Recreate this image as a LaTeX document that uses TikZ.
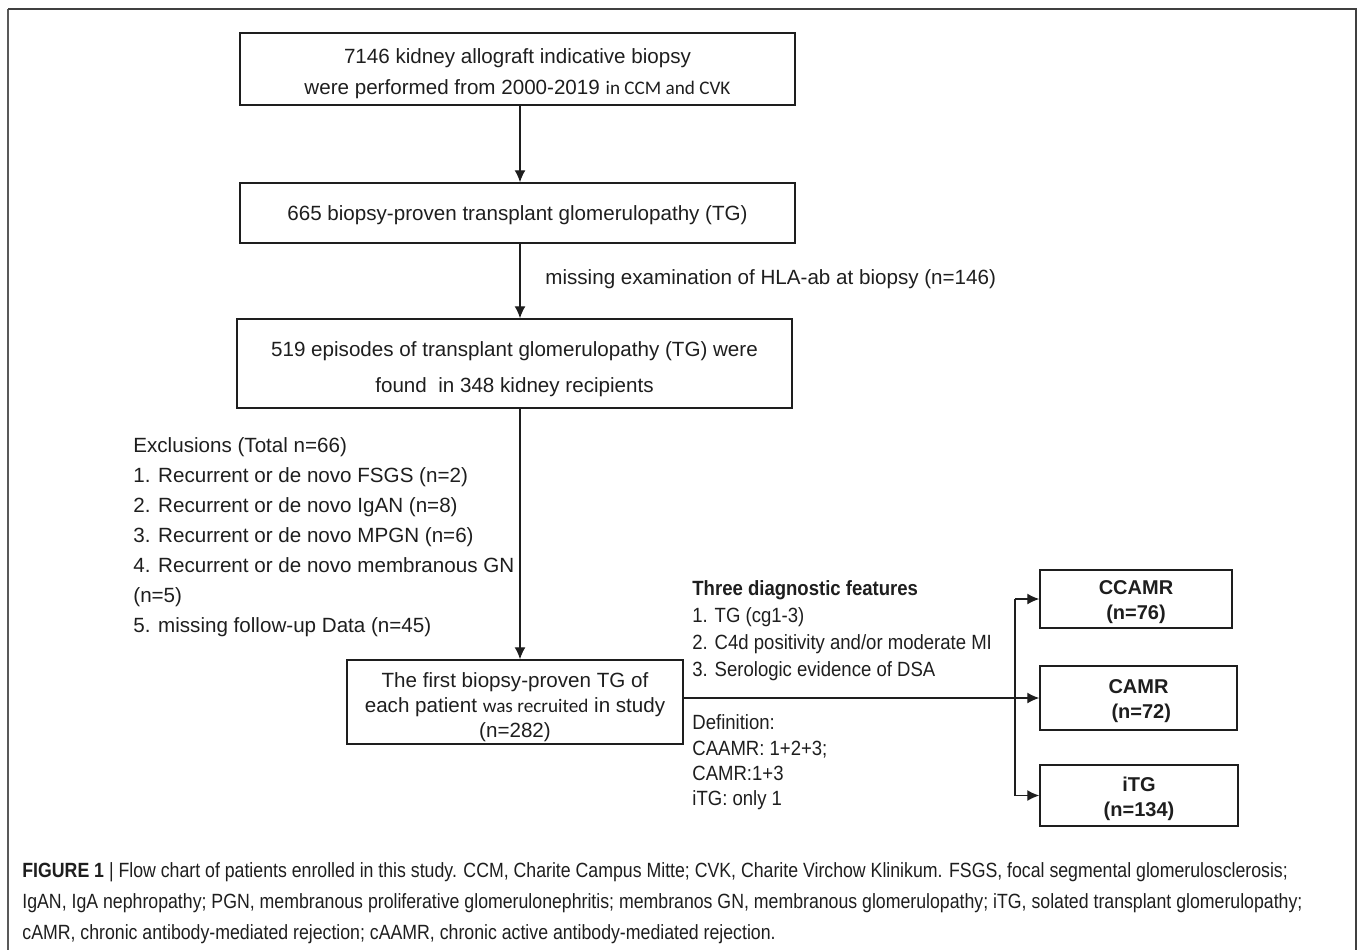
\documentclass[tikz,border=0pt]{standalone}
\usepackage{fontspec}
\setmainfont{Liberation Sans}
\newfontfamily\calfont{Carlito}
\newfontfamily\narrowfont[FakeStretch=0.9]{Liberation Sans}
\newfontfamily\capfont[FakeStretch=0.86]{Liberation Sans}
\usetikzlibrary{arrows.meta}
\definecolor{ink}{HTML}{1E1E1E}
\newcommand\lift[1]{\rule{0pt}{#1}}
\begin{document}
\begin{tikzpicture}[x=0.5pt,y=-0.5pt,
  every node/.style={text=ink},
  box/.style={draw=ink,line width=0.75pt,inner sep=0pt,align=center,font=\fontsize{10.3}{15.5}\selectfont},
  resbox/.style={box,font=\bfseries\fontsize{10}{12.5}\selectfont},
  arr/.style={draw=ink,line width=0.7pt,-{Latex[length=6pt,width=5.5pt]}},
  conn/.style={draw=ink,line width=0.7pt},
  plain/.style={inner sep=0pt,align=left}]
\useasboundingbox (0,0) rectangle (1358,949);
% frame
\draw[line width=1pt,draw=black!65] (8,960) -- (8,8.5);
\draw[line width=1pt,draw=black!75] (8,8.5) -- (1356,8.5) -- (1356,960);

\node[box,minimum width=277.5pt,minimum height=36pt] (b1) at (517.5,69)
  {\lift{12pt}7146 kidney allograft indicative biopsy\\were performed from 2000-2019 {\calfont\fontsize{9.6}{15.5}\selectfont in CCM and CVK}};
\node[box,minimum width=277.5pt,minimum height=30pt] (b2) at (517.5,213)
  {\lift{9.5pt}665 biopsy-proven transplant glomerulopathy (TG)};
\node[box,minimum width=277.5pt,minimum height=44.5pt,font=\fontsize{10.3}{18}\selectfont] (b3) at (514.5,363.5)
  {\lift{13.6pt}519 episodes of transplant glomerulopathy (TG) were\\found\ \ in 348 kidney recipients};
\node[box,minimum width=168pt,minimum height=42pt,font=\fontsize{10.3}{12.5}\selectfont] (b4) at (515,702)
  {\lift{12.5pt}The first biopsy-proven TG of\\each patient {\calfont\fontsize{9.6}{12.5}\selectfont was recruited} in study\\(n=282)};

\node[resbox,minimum width=96pt,minimum height=29pt] (r1) at (1136,599) {\lift{10.4pt}CCAMR\\(n=76)};
\node[resbox,minimum width=98.5pt,minimum height=32pt] (r2) at (1138.5,698) {\lift{10.4pt}CAMR\\\ (n=72)};
\node[resbox,minimum width=99pt,minimum height=30.5pt] (r3) at (1139,795.5) {\lift{10.4pt}iTG\\(n=134)};

\coordinate (ax) at (520,0);
\coordinate (sp) at (1015,0);

\draw[arr] (b1.south -| ax) -- (b2.north -| ax);
\draw[arr] (b2.south -| ax) -- (b3.north -| ax);
\draw[arr] (b3.south -| ax) -- (b4.north -| ax);
\draw[arr] (b4.east |- r2.west) -- (r2.west);
\draw[conn] (sp |- r1.west) -- (sp |- r3.west);
\draw[arr] (sp |- r1.west) -- (r1.west);
\draw[arr] (sp |- r3.west) -- (r3.west);

\node[plain,anchor=west,font=\fontsize{10.3}{15}\selectfont] (miss) at (545,279)
  {missing examination of HLA-ab at biopsy (n=146)};

\node[plain,anchor=west,font=\fontsize{10.3}{15}\selectfont] (excl) at (133,537)
  {Exclusions (Total n=66)\\
   1. Recurrent or de novo FSGS (n=2)\\
   2. Recurrent or de novo IgAN (n=8)\\
   3. Recurrent or de novo MPGN (n=6)\\
   4. Recurrent or de novo membranous GN\\
   (n=5)\\
   5. missing follow-up Data (n=45)};

\node[plain,anchor=west,font=\narrowfont\fontsize{10.3}{13.5}\selectfont] (feat) at (692,630.5)
  {{\bfseries Three diagnostic features}\\
   1. TG (cg1-3)\\
   2. C4d positivity and/or moderate MI\\
   3. Serologic evidence of DSA};

\node[plain,anchor=west,font=\narrowfont\fontsize{10.3}{12.7}\selectfont] (defn) at (692,762.5)
  {Definition:\\
   CAAMR: 1+2+3;\\
   CAMR:1+3\\
   iTG: only 1};

\node[plain,anchor=west,font=\capfont\fontsize{10.3}{15.5}\selectfont] (cap) at (22,903)
  {{\bfseries FIGURE 1 }| Flow chart of patients enrolled in this study. CCM, Charite Campus Mitte; CVK, Charite Virchow Klinikum. FSGS, focal segmental glomerulosclerosis;\\
   IgAN, IgA nephropathy; PGN, membranous proliferative glomerulonephritis; membranos GN, membranous glomerulopathy; iTG, solated transplant glomerulopathy;\\
   cAMR, chronic antibody-mediated rejection; cAAMR, chronic active antibody-mediated rejection.};
\end{tikzpicture}
\end{document}
